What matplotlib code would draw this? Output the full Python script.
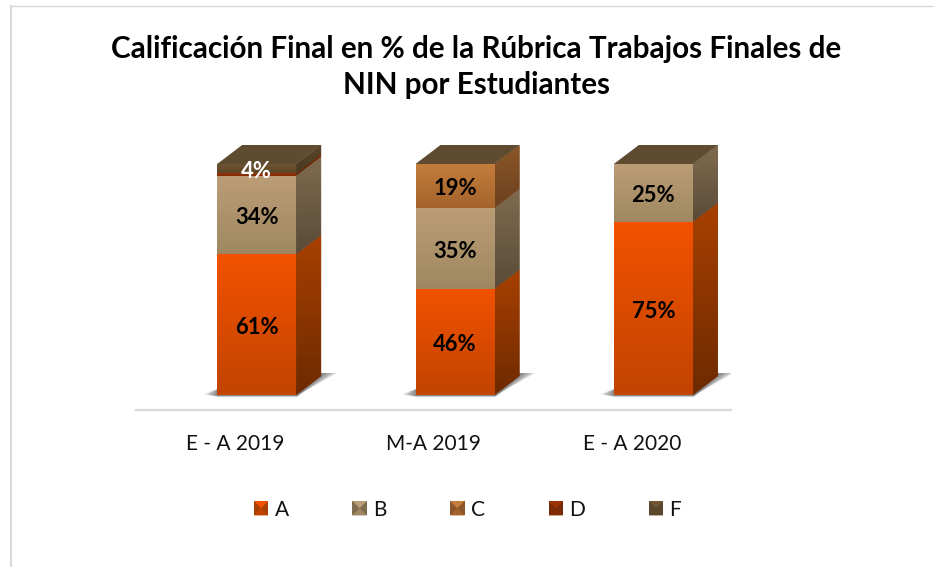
import numpy as np
import matplotlib
matplotlib.use('Agg')
import matplotlib.pyplot as plt
from matplotlib.colors import to_rgb
from matplotlib.lines import Line2D
from matplotlib.legend_handler import HandlerBase
from matplotlib.patches import Patch, Polygon

plt.rcParams['font.family'] = ['Lato', 'DejaVu Sans']

# data
categories = ['E - A 2019', 'M-A 2019', 'E - A 2020']
grades = ['A', 'B', 'C', 'D', 'F']
grade_a = [61, 46, 75]
grade_b = [34, 35, 25]
grade_c = [0, 19, 0]
grade_d = [1, 0, 0]
grade_f = [4, 0, 0]
series = [grade_a, grade_b, grade_c, grade_d, grade_f]
title = 'Calificación Final en % de la Rúbrica Trabajos Finales de\nNIN por Estudiantes'

# (front top, front bottom, side top, side bottom)
palette = {
    'A': ('#f25200', '#c24400', '#a84000', '#6e2a00'),
    'B': ('#bb9d76', '#9f8861', '#7f6b4f', '#5a4b37'),
    'C': ('#c47d3b', '#a4642c', '#8c5628', '#6c411e'),
    'D': ('#9a3408', '#7e2a04', '#7a2c08', '#5e2204'),
    'F': ('#6e5533', '#5c4629', '#5a462b', '#4a3a22'),
}
label_colors = {'A': 'black', 'B': 'black', 'C': 'black', 'D': 'white', 'F': 'white'}

W, H = 934, 567
fig = plt.figure(figsize=(W / 100, H / 100), dpi=100)
ax = fig.add_axes([136 / W, (H - 410) / H, 595 / W, 280 / H])

px_per_pct = 2.31
px_per_cat = 595 / 3
ax.set_xlim(-0.5, 2.5)
ax.set_ylim(-15 / px_per_pct, 265 / px_per_pct)
ax.autoscale(False)

bar_off = 21.5 / px_per_cat
bar_w = 79 / px_per_cat
depth_x = 25 / px_per_cat
depth_y = 19 / px_per_pct


def gradient_fill(ax, clip, c_top, c_bottom, zorder):
    # vertical gradient, clipped to a bar or polygon
    if isinstance(clip, Polygon):
        verts = clip.get_xy()
    else:
        verts = ax.transData.inverted().transform(clip.get_verts())
    x0, x1 = verts[:, 0].min(), verts[:, 0].max()
    y0, y1 = verts[:, 1].min(), verts[:, 1].max()
    t = np.linspace(0, 1, 64)[:, None, None]
    img = (1 - t) * np.array(to_rgb(c_top)) + t * np.array(to_rgb(c_bottom))
    im = ax.imshow(img, extent=(x0, x1, y0, y1), aspect='auto', zorder=zorder,
                   interpolation='bilinear')
    im.set_clip_path(clip)


xs = np.arange(len(categories)) + bar_off

# floor shadow
for x in xs:
    left, right = x - bar_w / 2, x + bar_w / 2
    for grow in np.linspace(1, 0, 7):
        g = 13 * grow
        low = -(0.5 + 1.5 * (1 - grow)) / px_per_pct
        shadow = [(left - g / px_per_cat, 0.2),
                  (left - 0.5 * g / px_per_cat, 1.6),
                  (left, 2.5),
                  (right, 2.5),
                  (right + depth_x, depth_y + 3 / px_per_pct),
                  (right + depth_x + (3 + g) / px_per_cat, depth_y + 3 / px_per_pct),
                  (right + 1 / px_per_cat, low),
                  (left - 0.4 * g / px_per_cat, low)]
        ax.add_patch(Polygon(shadow, closed=True, fc='#4a4a4a', ec='none', alpha=0.14, zorder=1))

bottom = np.zeros(len(categories))
for grade, vals in zip(grades, series):
    vals = np.array(vals, dtype=float)
    c = palette[grade]
    bars = ax.bar(xs, vals, bar_w, bottom=bottom, color=c[1], linewidth=0, zorder=2)
    for bar, b, v in zip(bars, bottom, vals):
        if v == 0:
            continue
        gradient_fill(ax, bar, c[0], c[1], 3)
        r = bar.get_x() + bar_w
        side = Polygon([(r, b), (r + depth_x, b + depth_y),
                        (r + depth_x, b + v + depth_y), (r, b + v)],
                       closed=True, fc=c[3], ec='none', zorder=2)
        ax.add_patch(side)
        gradient_fill(ax, side, c[2], c[3], 3)
    bottom += vals

# top faces carry the colour of the last series
for x, top in zip(xs, bottom):
    left, right = x - bar_w / 2, x + bar_w / 2
    cap = Polygon([(left, top), (right, top), (right + depth_x, top + depth_y),
                   (left + depth_x, top + depth_y)],
                  closed=True, fc='#5f4b2f', ec='none', zorder=4)
    ax.add_patch(cap)

# data labels
bottom = np.zeros(len(categories))
for grade, vals in zip(grades, series):
    for x, b, v in zip(xs, bottom, vals):
        if v >= 3:
            ax.text(x, b + v / 2 - 1.3, f'{v}%', ha='center', va='center', fontsize=15.8,
                    fontweight='bold', color=label_colors[grade], zorder=6)
    bottom += np.array(vals)

ax.set_xticks(range(len(categories)))
ax.set_xticklabels(categories, fontsize=15, color='#111111')
ax.tick_params(axis='x', length=0, pad=17)
ax.set_yticks([])
for s in ['top', 'left', 'right']:
    ax.spines[s].set_visible(False)
ax.spines['bottom'].set_color('#d9d9d9')
ax.spines['bottom'].set_linewidth(1.6)
ax.patch.set_alpha(0)


class BevelHandler(HandlerBase):
    # square swatch with the light triangle on top, as Excel draws it
    def create_artists(self, legend, orig, xd, yd, width, height, fontsize, trans):
        c = palette[orig.get_label()]
        s = 10.4
        x0, y0 = xd * -1 + width - s, -yd + (height - s) / 2
        cx, cy = x0 + s / 2, y0 + s / 2
        base = Polygon([(x0, y0), (x0 + s, y0), (x0 + s, y0 + s), (x0, y0 + s)],
                       fc=c[2], ec='none', transform=trans)
        low = Polygon([(x0, y0), (x0 + s, y0), (cx, cy)], fc=c[1], ec='none', transform=trans)
        high = Polygon([(x0, y0 + s), (x0 + s, y0 + s), (cx, cy)], fc=c[0], ec='none',
                       transform=trans)
        return [base, low, high]


handles = [Patch(label=g) for g in grades]
leg = fig.legend(handles=handles, labels=grades, ncol=5, frameon=False, fontsize=15,
                 loc='center', bbox_to_anchor=(468 / W, (H - 509.5) / H),
                 handler_map={Patch: BevelHandler()},
                 handlelength=0.65, handletextpad=0.3, columnspacing=3.1,
                 labelcolor='#111111')

fig.text(476.5 / W, (H - 67) / H, title, ha='center', va='center', fontsize=21.3,
         fontweight='bold', color='black', linespacing=1.38)

# chart area border, only top and left are inside the crop
fig.add_artist(Line2D([10.5 / W, 10.5 / W], [0, (H - 6) / H], color='#d9d9d9', lw=1.5))
fig.add_artist(Line2D([10 / W, 1], [(H - 6) / H, (H - 6) / H], color='#d9d9d9', lw=1))

fig.savefig('out.png', dpi=100)
